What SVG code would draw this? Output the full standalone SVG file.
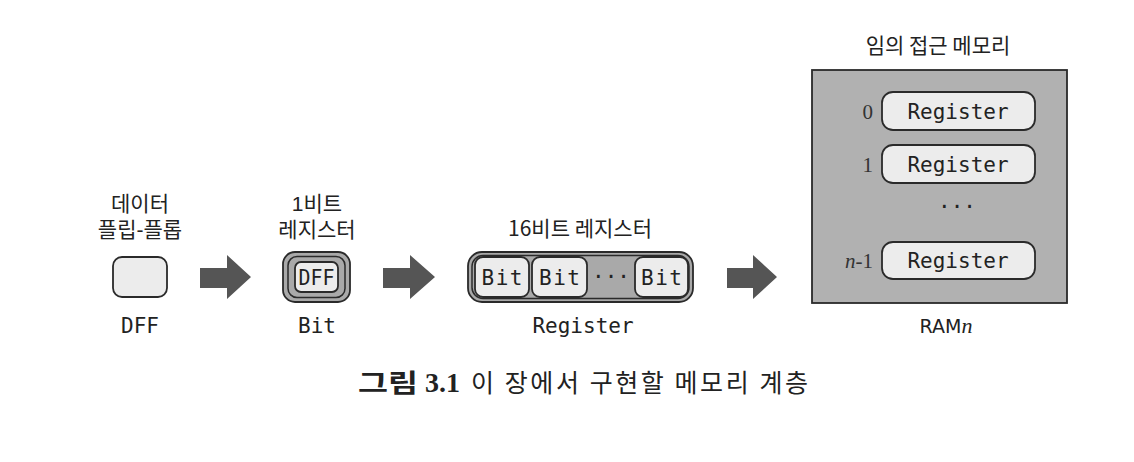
<svg xmlns="http://www.w3.org/2000/svg" width="1134" height="462" viewBox="0 0 1134 462">
<style>
.bg{fill:#ffffff}
.ko{font-family:"Noto Sans CJK KR","Noto Sans",sans-serif;font-size:21px;fill:#222;text-anchor:middle}
.ko2{font-family:"Liberation Sans","Noto Sans CJK KR",sans-serif;font-size:21px;fill:#222;text-anchor:middle}
.mono{font-family:"DejaVu Sans Mono","Liberation Mono",monospace;font-size:21px;fill:#222;text-anchor:middle}
.light{fill:#ececec;stroke:#2a2a2a;stroke-width:1.8}
.mid{fill:#a9a9a9;stroke:#2a2a2a;stroke-width:1.8}
.ram{fill:#b1b1b1;stroke:#2a2a2a;stroke-width:1.8}
.idx{font-family:"Liberation Serif","DejaVu Serif",serif;font-size:21px;fill:#333;text-anchor:end}
.arrow{fill:#555}
.cap{font-family:"Noto Sans CJK KR","Noto Sans",sans-serif;font-size:25px;fill:#222}
</style>
<rect class="bg" x="0" y="0" width="1134" height="462"/>

<g id="node-dff">
  <text class="ko2" x="140" y="211">데이터</text>
  <text class="ko2" x="140" y="237">플립-플롭</text>
  <rect class="light" x="113" y="257" width="54" height="40" rx="9"/>
  <text class="mono" x="140" y="333">DFF</text>
</g>

<g id="node-bit">
  <text class="ko2" x="317" y="211">1비트</text>
  <text class="ko2" x="317" y="237">레지스터</text>
  <rect class="mid" x="283" y="252" width="67" height="50" rx="12"/>
  <rect fill="none" stroke="#2a2a2a" stroke-width="1.5" x="288" y="256.5" width="57" height="41" rx="9"/>
  <rect class="light" x="295" y="262" width="43" height="30" rx="6"/>
  <text class="mono" x="316.5" y="285" font-size="22" textLength="36" lengthAdjust="spacingAndGlyphs">DFF</text>
  <text class="mono" x="317" y="333">Bit</text>
</g>

<g id="node-register">
  <text class="ko" x="580" y="236">16비트 레지스터</text>
  <rect class="mid" x="468" y="252" width="225" height="50" rx="14"/>
  <rect fill="none" stroke="#2a2a2a" stroke-width="1.5" x="472" y="255.5" width="217" height="43" rx="11"/>
  <rect class="light" x="475" y="257" width="54" height="40" rx="8"/>
  <text class="mono" x="502" y="285" textLength="41">Bit</text>
  <rect class="light" x="532" y="257" width="55" height="40" rx="8"/>
  <text class="mono" x="559.5" y="285" textLength="41">Bit</text>
  <text class="mono" x="611" y="284">···</text>
  <rect class="light" x="635" y="257" width="53" height="40" rx="8"/>
  <text class="mono" x="661.5" y="285" textLength="41">Bit</text>
  <text class="mono" x="583" y="333">Register</text>
</g>

<g id="node-ram">
  <text class="ko" x="938" y="53">임의 접근 메모리</text>
  <rect class="ram" x="812" y="70" width="255" height="233"/>
  <text class="idx" x="873" y="119">0</text>
  <rect class="light" x="882" y="92" width="153" height="38" rx="11"/>
  <text class="mono" x="958" y="119">Register</text>
  <text class="idx" x="873" y="172">1</text>
  <rect class="light" x="882" y="145" width="153" height="38" rx="11"/>
  <text class="mono" x="958" y="172">Register</text>
  <text class="mono" x="957" y="214">···</text>
  <text class="idx" x="873" y="268"><tspan font-style="italic">n</tspan>-1</text>
  <rect class="light" x="882" y="242" width="153" height="37" rx="11"/>
  <text class="mono" x="958" y="268">Register</text>
  <text x="946" y="333" text-anchor="middle" font-family="DejaVu Sans,sans-serif" font-size="19" fill="#222">RAM<tspan font-family="Liberation Serif,serif" font-style="italic" font-size="22">n</tspan></text>
</g>

<g id="connectors">
  <polygon class="arrow" points="200,268 227,268 227,255 251,277 227,299 227,288 200,288"/>
  <polygon class="arrow" points="383,268 410,268 410,255 435,277 410,299 410,288 383,288"/>
  <polygon class="arrow" points="727,268 753,268 753,255 777,277 753,299 753,288 727,288"/>
</g>

<g id="caption">
  <text class="cap" x="358" y="392" font-weight="bold" textLength="60" lengthAdjust="spacingAndGlyphs">그림</text>
  <text x="425" y="392" font-family="Liberation Serif,serif" font-size="28" font-weight="bold" fill="#222">3.1</text>
  <text class="cap" x="471" y="392" textLength="337" lengthAdjust="spacing">이 장에서 구현할 메모리 계층</text>
</g>
</svg>
